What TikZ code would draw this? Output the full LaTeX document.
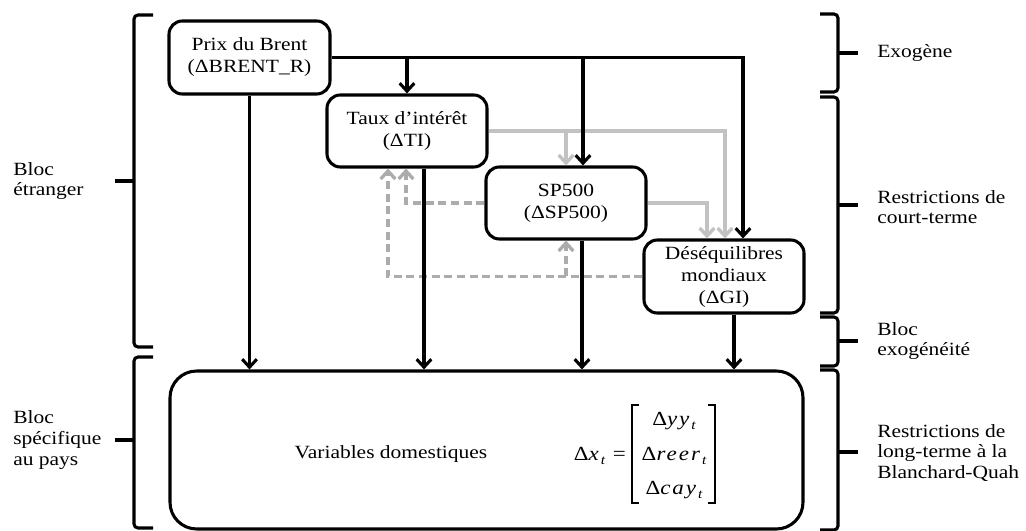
\documentclass[tikz,border=0pt]{standalone}
\usepackage{fontspec}
\setmainfont[FakeStretch=1.15]{Liberation Serif}
\newfontfamily\eqfont[FakeStretch=1.15,LetterSpace=10]{Liberation Serif}
\usetikzlibrary{arrows.meta}
\newcommand\subt[1]{\raisebox{-0.45ex}{\fontsize{10}{10}\selectfont\itshape #1}}
\begin{document}
\begin{tikzpicture}[x=0.75pt,y=-0.75pt,
  box/.style={draw, line width=2.3pt, rounded corners=10pt, align=center, inner sep=0pt,
    font=\fontsize{14}{16.5}\selectfont},
  blk/.style={line width=2.3pt, -{Straight Barb[length=6pt,width=11pt]}},
  gry/.style={draw=gray!48, line width=2.5pt, -{Straight Barb[length=6pt,width=11pt]}},
  gdash/.style={draw=gray!65, line width=2.5pt, dash pattern=on 6pt off 3.5pt,
    -{Straight Barb[length=6pt,width=11pt]}},
  brk/.style={line width=2.3pt, rounded corners=3pt},
  lbl/.style={anchor=west, align=left, inner sep=0pt, font=\fontsize{14}{15.5}\selectfont},
  eq/.style={inner sep=0pt, font=\eqfont\fontsize{15}{16}\selectfont},
]
\useasboundingbox (0,0) rectangle (1026,531);

% boxes
\node[box, minimum width=161*0.75pt, minimum height=73*0.75pt] (brent) at (249.5,57.5) {Prix du Brent\\(ΔBRENT\_R)};
\node[box, minimum width=160*0.75pt, minimum height=72*0.75pt] (taux) at (407,131) {Taux d’intérêt\\(ΔTI)};
\node[box, minimum width=160*0.75pt, minimum height=72*0.75pt] (sp) at (566,203) {SP500\\(ΔSP500)};
\node[box, minimum width=160*0.75pt, minimum height=73*0.75pt] (des) at (724,276.5) {Déséquilibres\\mondiaux\\(ΔGI)};
\node[box, rounded corners=20pt, minimum width=633*0.75pt, minimum height=158*0.75pt] (dom) at (486.5,450) {};

% domestic contents
\node[inner sep=0pt, font=\fontsize{14}{17}\selectfont] (vd) at (391,454) {Variables domestiques};
\node[eq, anchor=east] (dx) at (626,456) {Δ\textit{x}\subt{t} =};
\node[eq] (r1) at (674,421) {Δ\textit{yy}\subt{t}};
\node[eq] (r2) at (674,456) {Δ\textit{reer}\subt{t}};
\node[eq] (r3) at (674,490) {Δ\textit{cay}\subt{t}};
\draw[line width=0.8pt] (639,405) -- (632,405) -- (632,503) -- (639,503);
\draw[line width=0.8pt] (708,405) -- (715,405) -- (715,503) -- (708,503);

% grey connectors
\draw[gry] (taux.east) -| (des.north -| 725,0);
\draw[gry] (sp.north |- taux.east) -- (sp.north);
\draw[gry] (sp.east) -| (des.north -| 707,0);
\draw[gdash] (sp.west) -| (taux.south -| 406,0);
\draw[gdash] (des.west) -| (taux.south -| 388,0);
\draw[gdash] (sp.south |- des.west) -- (sp.south);

% black connectors
\draw[blk] (brent.east) -| (des.north -| 743,0);
\draw[blk] (taux.north |- brent.east) -- (taux.north);
\draw[blk] (583,0 |- brent.east) -- (583,0 |- sp.north);
\draw[blk] (brent.south) -- (brent.south |- dom.north);
\draw[blk] (424,0 |- taux.south) -- (424,0 |- dom.north);
\draw[blk] (582,0 |- sp.south) -- (582,0 |- dom.north);
\draw[blk] (734,0 |- des.south) -- (734,0 |- dom.north);

% left brackets
\draw[brk] (153,15) -- (134,15) -- (134,347) -- (153,347);
\draw[brk] (134,181) -- (115,181);
\draw[brk] (153,357) -- (134,357) -- (134,528) -- (153,528);
\draw[brk] (134,440) -- (115,440);
% right brackets
\draw[brk] (820,14) -- (838,14) -- (838,92) -- (820,92);
\draw[brk] (838,53) -- (858,53);
\draw[brk] (820,97) -- (838,97) -- (838,313) -- (820,313);
\draw[brk] (838,205) -- (858,205);
\draw[brk] (820,317) -- (838,317) -- (838,366) -- (820,366);
\draw[brk] (838,341) -- (858,341);
\draw[brk] (820,370) -- (838,370) -- (838,530) -- (820,530);
\draw[brk] (838,452) -- (858,452);

% labels
\node[lbl] (lbe) at (13,181) {Bloc\\étranger};
\node[lbl] (lbs) at (13,440) {Bloc\\spécifique\\au pays};
\node[lbl] (lex) at (877,53) {Exogène};
\node[lbl] (lct) at (877,207) {Restrictions de\\court-terme};
\node[lbl] (lbx) at (877,341) {Bloc\\exogénéité};
\node[lbl] (llt) at (877,453) {Restrictions de\\long-terme à la\\Blanchard-Quah};
\end{tikzpicture}
\end{document}
